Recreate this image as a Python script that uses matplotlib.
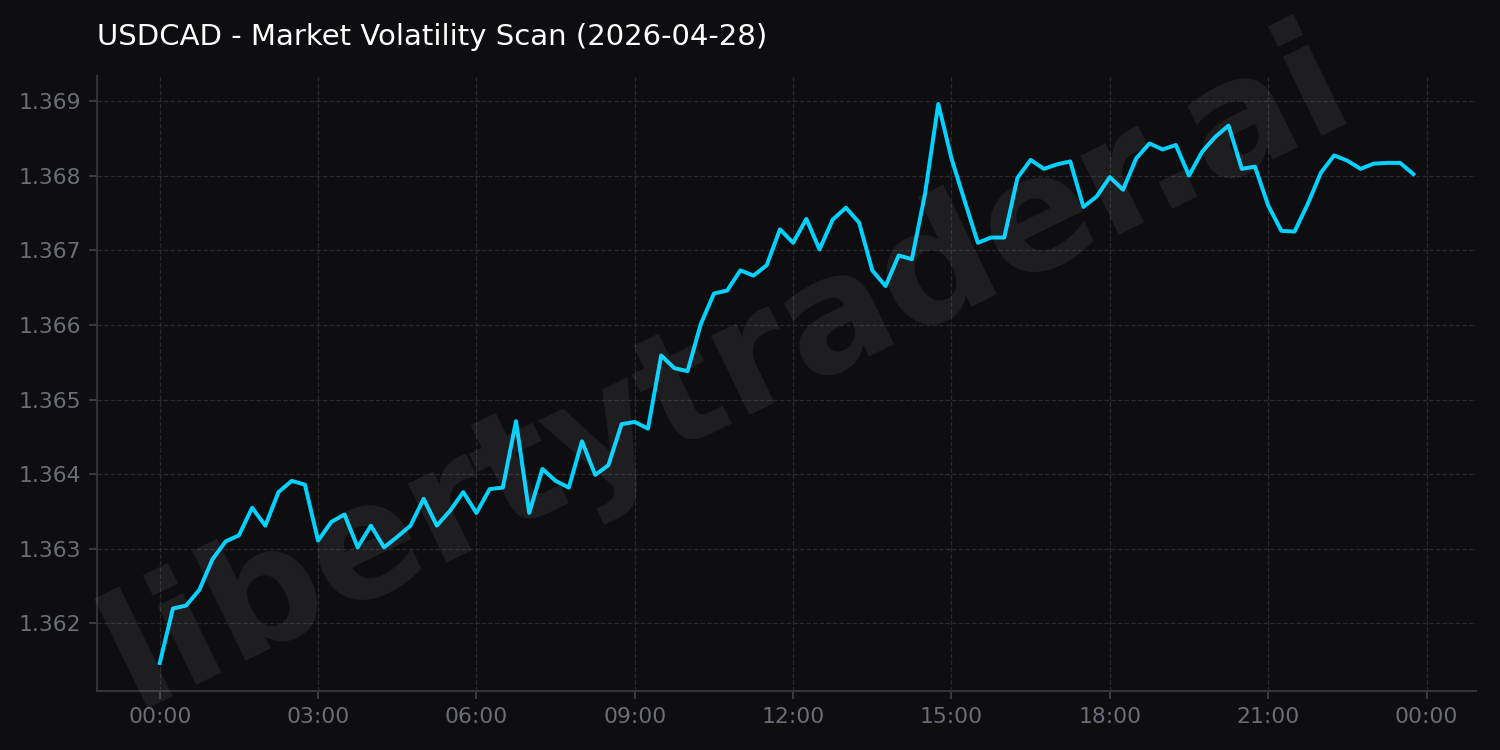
import matplotlib
matplotlib.use("Agg")
import matplotlib.pyplot as plt
import matplotlib.dates as mdates
import pandas as pd

title = "USDCAD - Market Volatility Scan (2026-04-28)"
watermark = "libertytrader.ai"
start = "2026-04-28 00:00"
freq = "15min"
prices = [
    1.36147, 1.36220, 1.36224, 1.36245, 1.36286, 1.36310, 1.36318, 1.36355,
    1.36331, 1.36376, 1.36391, 1.36386, 1.36311, 1.36336, 1.36346, 1.36302,
    1.36331, 1.36302, 1.36316, 1.36331, 1.36367, 1.36331, 1.36351, 1.36376,
    1.36348, 1.36380, 1.36382, 1.36471, 1.36348, 1.36407, 1.36391, 1.36382,
    1.36444, 1.36399, 1.36412, 1.36467, 1.36470, 1.36461, 1.36559, 1.36542,
    1.36538, 1.36601, 1.36642, 1.36646, 1.36673, 1.36666, 1.36680, 1.36728,
    1.36710, 1.36742, 1.36701, 1.36741, 1.36757, 1.36737, 1.36673, 1.36652,
    1.36693, 1.36688, 1.36776, 1.36896, 1.36823, 1.36766, 1.36710, 1.36717,
    1.36717, 1.36797, 1.36821, 1.36809, 1.36815, 1.36819, 1.36758, 1.36772,
    1.36798, 1.36781, 1.36823, 1.36843, 1.36835, 1.36841, 1.36800, 1.36832,
    1.36852, 1.36867, 1.36809, 1.36812, 1.36760, 1.36726, 1.36725, 1.36762,
    1.36804, 1.36827, 1.36820, 1.36809, 1.36816, 1.36817, 1.36817, 1.36802,
]
times = pd.date_range(start=start, periods=len(prices), freq=freq)

bg = "#0e0e11"
fig = plt.figure(figsize=(10, 5), dpi=150, facecolor=bg)
ax = fig.add_axes([0.0647, 0.0787, 0.9193, 0.82])
ax.set_facecolor(bg)

fig.text(0.485, 0.505, watermark, fontsize=77, fontweight="bold", color="white",
         alpha=0.07, rotation=26, ha="center", va="center", zorder=0)

ax.plot(times, prices, color="#00d2ff", linewidth=1.9, zorder=3)

ax.set_title(title, loc="left", color="white", fontsize=14, pad=15)

ax.xaxis.set_major_locator(mdates.HourLocator(byhour=range(0, 24, 3)))
ax.xaxis.set_major_formatter(mdates.DateFormatter("%H:%M"))
ax.yaxis.set_major_formatter(matplotlib.ticker.FormatStrFormatter("%.3f"))

ax.grid(True, color="#2a2a2e", linestyle="--", linewidth=0.6)
for s in ["top", "right"]:
    ax.spines[s].set_visible(False)
for s in ["left", "bottom"]:
    ax.spines[s].set_color("#333337")
    ax.spines[s].set_linewidth(1.0)
ax.tick_params(colors="#6b6e76", labelsize=10.5, length=4, width=0.8)
ax.tick_params(axis="both", color="#444448")

fig.savefig("out.png", dpi=150, facecolor=bg)
